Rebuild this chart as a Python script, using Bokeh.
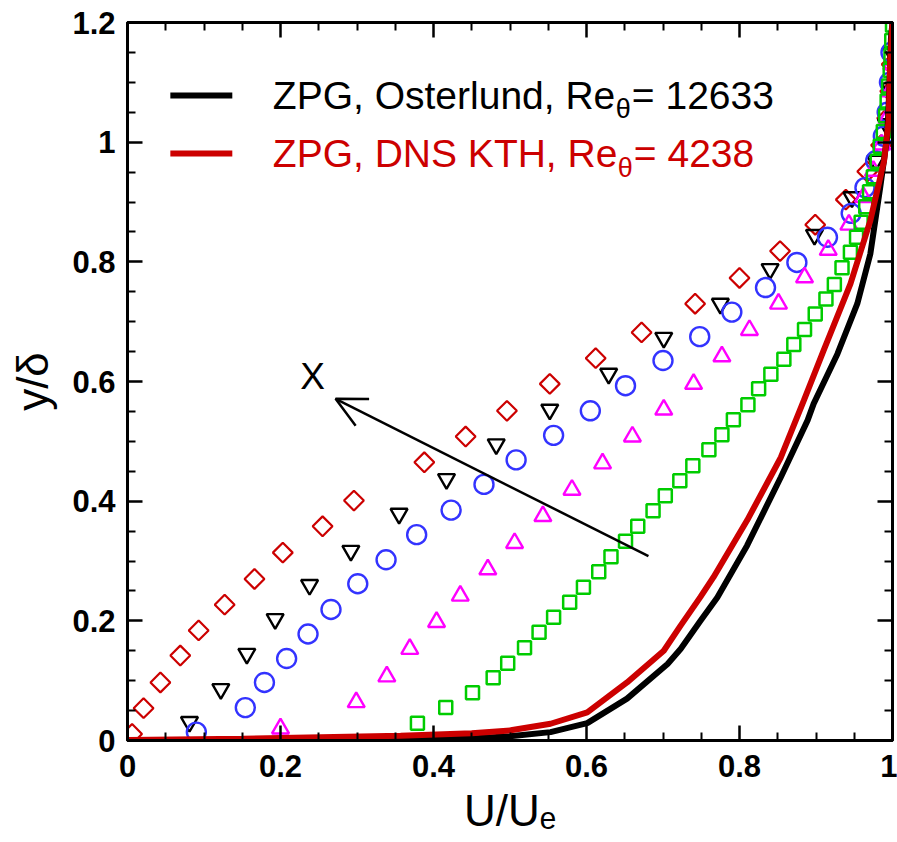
import numpy as np
from bokeh.plotting import figure
from bokeh.models import (Range1d, LinearAxis, Label, Arrow, OpenHead,
                          FixedTicker, CustomJSTickFormatter)
from bokeh.embed import file_html
from bokeh.resources import INLINE

# ---------------- data ----------------
x_ticks = [0, 0.2, 0.4, 0.6, 0.8, 1.0]
x_minor = [0.05, 0.1, 0.15, 0.25, 0.3, 0.35, 0.45, 0.5, 0.55, 0.65, 0.7,
           0.75, 0.85, 0.9, 0.95]
y_ticks = [0, 0.2, 0.4, 0.6, 0.8, 1.0, 1.2]
y_minor = [0.05, 0.1, 0.15, 0.25, 0.3, 0.35, 0.45, 0.5, 0.55, 0.65, 0.7,
           0.75, 0.85, 0.9, 0.95, 1.05, 1.1, 1.15]
x_title = "U/Uₑ"
y_title = "y/δ"

# diamonds (red)
dia_x = [0.006, 0.021, 0.043, 0.069, 0.093, 0.127, 0.166, 0.203, 0.255, 0.296,
         0.388, 0.442, 0.496, 0.552, 0.612, 0.672, 0.742, 0.800, 0.853, 0.899,
         0.939, 0.967, 0.985, 0.993, 0.997, 0.999]
dia_y = [0.011, 0.054, 0.097, 0.142, 0.184, 0.227, 0.270, 0.314, 0.358, 0.401,
         0.465, 0.508, 0.551, 0.596, 0.639, 0.682, 0.730, 0.773, 0.818, 0.862,
         0.904, 0.951, 0.995, 1.040, 1.085, 1.130]
# inverted triangles (black)
tdn_x = [0.081, 0.122, 0.156, 0.193, 0.238, 0.292, 0.355, 0.417, 0.482, 0.552,
         0.629, 0.701, 0.775, 0.840, 0.898, 0.947, 0.978, 0.992, 0.997, 0.999]
tdn_y = [0.031, 0.086, 0.145, 0.203, 0.260, 0.317, 0.379, 0.437, 0.495, 0.553,
         0.613, 0.673, 0.730, 0.788, 0.845, 0.908, 0.969, 1.030, 1.090, 1.150]
# circles (blue)
cir_x = [0.090, 0.154, 0.179, 0.208, 0.236, 0.266, 0.301, 0.338, 0.378, 0.423,
         0.466, 0.508, 0.557, 0.605, 0.651, 0.700, 0.748, 0.790, 0.834, 0.875,
         0.915, 0.946, 0.964, 0.978, 0.988, 0.993, 0.996, 0.998]
cir_y = [0.014, 0.055, 0.097, 0.137, 0.178, 0.219, 0.262, 0.302, 0.344, 0.385,
         0.428, 0.469, 0.510, 0.551, 0.593, 0.635, 0.675, 0.716, 0.757, 0.799,
         0.841, 0.881, 0.924, 0.969, 1.010, 1.050, 1.100, 1.150]
# triangles (magenta)
tup_x = [0.200, 0.299, 0.339, 0.369, 0.404, 0.435, 0.471, 0.506, 0.543, 0.581,
         0.621, 0.660, 0.701, 0.740, 0.777, 0.813, 0.851, 0.885, 0.916, 0.943,
         0.962, 0.975, 0.986, 0.993, 0.997, 0.999]
tup_y = [0.020, 0.064, 0.107, 0.153, 0.198, 0.242, 0.286, 0.330, 0.375, 0.419,
         0.463, 0.508, 0.553, 0.596, 0.642, 0.686, 0.730, 0.774, 0.820, 0.862,
         0.908, 0.952, 0.996, 1.040, 1.085, 1.130]
# squares (green)
sq_x = [0.379, 0.416, 0.451, 0.478, 0.497, 0.519, 0.538, 0.557, 0.578, 0.596,
        0.616, 0.632, 0.651, 0.667, 0.687, 0.703, 0.722, 0.739, 0.760, 0.777,
        0.792, 0.811, 0.825, 0.841, 0.858, 0.871, 0.885, 0.899, 0.913, 0.924,
        0.934, 0.945, 0.953, 0.959, 0.965, 0.970, 0.975, 0.980, 0.984, 0.988,
        0.991, 0.993, 0.995, 0.997, 0.998, 0.999, 1.000]
sq_y = [0.029, 0.055, 0.080, 0.105, 0.129, 0.155, 0.181, 0.206, 0.231, 0.256,
        0.282, 0.307, 0.333, 0.358, 0.384, 0.409, 0.434, 0.459, 0.486, 0.511,
        0.536, 0.561, 0.588, 0.612, 0.637, 0.662, 0.687, 0.713, 0.738, 0.762,
        0.790, 0.816, 0.841, 0.866, 0.892, 0.917, 0.942, 0.968, 0.993, 1.018,
        1.044, 1.069, 1.094, 1.120, 1.145, 1.170, 1.196]
# ZPG Osterlund (black line)
ost_x = [0.140, 0.300, 0.444, 0.500, 0.553, 0.601, 0.653, 0.706, 0.723, 0.749,
         0.771, 0.810, 0.854, 0.889, 0.897, 0.928, 0.954, 0.971, 0.984, 0.993,
         0.996, 0.998, 1.000]
ost_y = [0.000, 0.000, 0.003, 0.007, 0.014, 0.029, 0.070, 0.128, 0.153, 0.200,
         0.239, 0.326, 0.440, 0.535, 0.563, 0.646, 0.730, 0.813, 0.925, 1.008,
         1.092, 1.175, 1.200]
# ZPG DNS KTH (red line)
dns_x = [0.000, 0.150, 0.357, 0.450, 0.501, 0.553, 0.601, 0.653, 0.701, 0.723,
         0.749, 0.766, 0.810, 0.854, 0.884, 0.910, 0.945, 0.971, 0.989, 0.995,
         0.997, 1.000]
dns_y = [0.001, 0.003, 0.008, 0.012, 0.017, 0.028, 0.047, 0.097, 0.150, 0.192,
         0.240, 0.273, 0.368, 0.473, 0.568, 0.652, 0.763, 0.869, 0.969, 1.036,
         1.136, 1.200]

legend_labels = [("ZPG, Osterlund, Re", "θ", "= 12633", "black"),
                 ("ZPG, DNS KTH, Re", "θ", "= 4238", "#CC0000")]

FONT = "Liberation Sans"

p = figure(width=897, height=842, output_backend="svg", toolbar_location=None,
           x_range=Range1d(0, 1), y_range=Range1d(0, 1.2),
           min_border_left=127, min_border_right=5, min_border_top=22,
           min_border_bottom=102, background_fill_color="white",
           border_fill_color="white")
p.xgrid.visible = False
p.ygrid.visible = False
p.outline_line_color = "black"
p.outline_line_width = 3

fmt_code = "return parseFloat(tick.toFixed(2)).toString();"


def style_axis(ax, ticks, minor, show_labels=True):
    ax.ticker = FixedTicker(ticks=ticks, minor_ticks=minor)
    ax.axis_line_width = 3
    ax.axis_line_color = "black"
    ax.major_tick_in = 15
    ax.major_tick_out = 0
    ax.minor_tick_in = 8
    ax.minor_tick_out = 0
    ax.major_tick_line_width = 2.5
    ax.minor_tick_line_width = 2
    ax.major_label_text_font = FONT
    ax.major_label_text_font_style = "bold"
    ax.major_label_text_color = "black"
    ax.major_label_text_font_size = "31px"
    ax.axis_label_text_font = FONT
    ax.axis_label_text_font_style = "normal"
    ax.axis_label_text_font_size = "44px"
    ax.axis_label_text_color = "black"
    if show_labels:
        ax.formatter = CustomJSTickFormatter(code=fmt_code)
    else:
        ax.formatter = CustomJSTickFormatter(code="return '';")
        ax.major_label_standoff = 0


style_axis(p.xaxis[0], x_ticks, x_minor)
style_axis(p.yaxis[0], y_ticks, y_minor)
p.xaxis[0].major_label_standoff = 14
p.yaxis[0].major_label_standoff = 12
p.xaxis[0].axis_label = x_title
p.yaxis[0].axis_label = y_title
p.xaxis[0].axis_label_standoff = 6
p.yaxis[0].axis_label_standoff = 12
top = LinearAxis()
right = LinearAxis()
style_axis(top, x_ticks, x_minor, False)
style_axis(right, y_ticks, y_minor, False)
p.add_layout(top, "above")
p.add_layout(right, "right")

# markers
p.scatter(dia_x, dia_y, marker="square", angle=np.pi / 4, size=14,
          fill_color=None, line_color="#CC0000", line_width=2.2)
p.scatter(tdn_x, tdn_y, marker="inverted_triangle", size=17,
          fill_color=None, line_color="black", line_width=2.4)
p.scatter(cir_x, cir_y, marker="circle", size=19,
          fill_color=None, line_color="#3333FF", line_width=2.4)
p.scatter(tup_x, tup_y, marker="triangle", size=17,
          fill_color=None, line_color="#FF00FF", line_width=2.4)
p.scatter(sq_x, sq_y, marker="square", size=13,
          fill_color=None, line_color="#00CC00", line_width=2.5)

# lines
p.line(ost_x, ost_y, line_color="black", line_width=6)
p.line(dns_x, dns_y, line_color="#CC0000", line_width=6)

# arrow with X label
p.add_layout(Arrow(x_start=0.681, y_start=0.308, x_end=0.272, y_end=0.571,
                   line_width=2.5, line_color="black",
                   end=OpenHead(size=30, line_width=2.5, line_color="black")))
p.add_layout(Label(x=0.242, y=0.608, text="X", text_font=FONT,
                   text_font_size="37px", text_align="center",
                   text_baseline="middle", text_color="black"))

# legend (custom, with subscript)
leg_y = [1.078, 0.981]
for (main, sub, tail, col), yy in zip(legend_labels, leg_y):
    p.segment(x0=[0.056], y0=[yy], x1=[0.137], y1=[yy], line_color=col,
              line_width=6)
    p.add_layout(Label(x=0.190, y=yy, text=main, text_font=FONT,
                       text_font_size="39px", text_baseline="middle",
                       text_color=col))
    w = 343 if "Osterlund" in main else 345
    p.add_layout(Label(x=0.190, y=yy, x_offset=w, y_offset=-14, text=sub,
                       text_font=FONT, text_font_size="27px",
                       text_baseline="middle", text_color=col))
    p.add_layout(Label(x=0.190, y=yy, x_offset=w + 16, text=tail,
                       text_font=FONT, text_font_size="39px",
                       text_baseline="middle", text_color=col))

open("out.html", "w").write(file_html(p, INLINE))
